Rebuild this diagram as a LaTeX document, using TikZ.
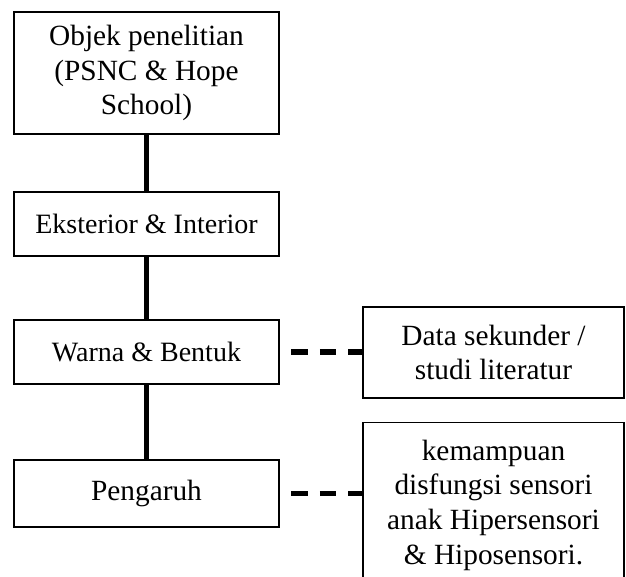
\documentclass[tikz,border=0pt]{standalone}
\usepackage{fontspec}
\setmainfont{Liberation Serif}
\usepackage{tikz}
\usetikzlibrary{positioning,calc}

\begin{document}
\begin{tikzpicture}[
    x=0.75pt, y=-0.75pt,     % 以像素为单位, y 向下
    % 方框样式定义
    box style/.style={
        rectangle,           % 矩形节点
        draw,                % 绘制边框
        line width=1pt,      % 细边框
        fill=white,          % 填充白色
        align=center,        % 文字居中
        inner sep=0pt,       % 内部填充为0
        font=\fontsize{22}{26}\selectfont
    },
    % 较小字号
    small text/.style={
        font=\fontsize{21}{25.5}\selectfont
    },
    % 实线连线样式定义
    solid link style/.style={
        draw,                % 绘制
        line width=3.4pt     % 较粗的线宽
    },
    % 虚线连线样式定义
    dashed link style/.style={
        draw,                % 绘制
        line width=3.8pt,    % 较粗的线宽
        dash pattern=on 12.5pt off 8.8pt,
        dash phase=12.5pt    % 以空白开始
    }
]

% 画布范围
\clip (0,0) rectangle (626,576);

% 定义节点
\node[box style, minimum width=198.75pt, minimum height=91.5pt] (objek) at (146.5,73)
    {Objek penelitian\\(PSNC \& Hope\\School)};
\node[box style, small text, minimum width=198.75pt, minimum height=48pt] (eksterior) at (146.5,224)
    {Eksterior \& Interior};
\node[box style, small text, minimum width=198.75pt, minimum height=48pt] (warna) at (146.5,352)
    {Warna \& Bentuk};
\node[box style, minimum width=198.75pt, minimum height=50.25pt] (pengaruh) at (146.5,493.5)
    {Pengaruh};
\node[box style, minimum width=195.75pt, minimum height=68.25pt] (data) at (493.5,352.5)
    {Data sekunder /\\studi literatur};
\node[box style, minimum width=195.75pt, minimum height=124pt] (kemampuan) at (493.5,505)
    {kemampuan\\disfungsi sensori\\anak Hipersensori\\\& Hiposensori.};

% 连线
\draw[solid link style] (objek) -- (eksterior);
\draw[solid link style] (eksterior) -- (warna);
\draw[solid link style] (warna) -- (pengaruh);
\draw[dashed link style] (warna.east) -- (warna.east -| data.west);
\draw[dashed link style] (pengaruh.east) -- (pengaruh.east -| kemampuan.west);

\end{tikzpicture}
\end{document}
